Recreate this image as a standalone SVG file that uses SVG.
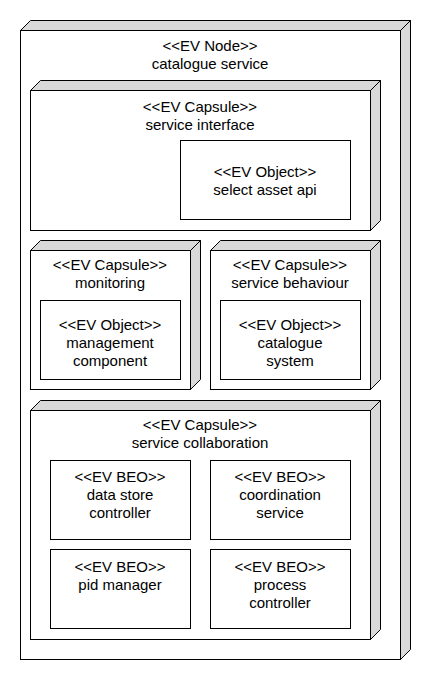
<svg xmlns="http://www.w3.org/2000/svg" width="430" height="680" viewBox="0 0 430 680">
<style>
.face{fill:#ffffff;stroke:#000;stroke-width:1}
.side{fill:#d9d9d9;stroke:#000;stroke-width:1;stroke-linejoin:miter}
.box{fill:#ffffff;stroke:#000;stroke-width:1}
text{font-family:"Liberation Sans",Arial,sans-serif;font-size:15px;fill:#000;text-anchor:middle}
</style>
<rect width="430" height="680" fill="#fff"/>
<g id="node-catalogue-service">
<polygon class="side" points="20.5,30.5 30.5,20.5 410.5,20.5 400.5,30.5"/>
<polygon class="side" points="400.5,30.5 410.5,20.5 410.5,649.5 400.5,659.5"/>
<rect class="face" x="20.5" y="30.5" width="380" height="629"/>
<text x="210" y="51">&lt;&lt;EV Node&gt;&gt;</text>
<text x="210" y="69">catalogue service</text>
</g>
<g id="capsule-service-interface">
<polygon class="side" points="30.5,90.5 40.5,80.5 380.5,80.5 370.5,90.5"/>
<polygon class="side" points="370.5,90.5 380.5,80.5 380.5,220.5 370.5,230.5"/>
<rect class="face" x="30.5" y="90.5" width="340" height="140"/>
<text x="200" y="112">&lt;&lt;EV Capsule&gt;&gt;</text>
<text x="200" y="130">service interface</text>
</g>
<g id="object-select-asset-api">
<rect class="box" x="180.5" y="140.5" width="170" height="79"/>
<text x="265" y="177">&lt;&lt;EV Object&gt;&gt;</text>
<text x="265" y="195">select asset api</text>
</g>
<g id="capsule-monitoring">
<polygon class="side" points="30.5,250.5 40.5,240.5 200.5,240.5 190.5,250.5"/>
<polygon class="side" points="190.5,250.5 200.5,240.5 200.5,379.5 190.5,389.5"/>
<rect class="face" x="30.5" y="250.5" width="160" height="139"/>
<text x="110" y="270">&lt;&lt;EV Capsule&gt;&gt;</text>
<text x="110" y="288">monitoring</text>
</g>
<g id="object-management-component">
<rect class="box" x="40.5" y="300.5" width="140" height="79"/>
<text x="110" y="330">&lt;&lt;EV Object&gt;&gt;</text>
<text x="110" y="348">management</text>
<text x="110" y="366">component</text>
</g>
<g id="capsule-service-behaviour">
<polygon class="side" points="210.5,250.5 220.5,240.5 380.5,240.5 370.5,250.5"/>
<polygon class="side" points="370.5,250.5 380.5,240.5 380.5,379.5 370.5,389.5"/>
<rect class="face" x="210.5" y="250.5" width="160" height="139"/>
<text x="290" y="270">&lt;&lt;EV Capsule&gt;&gt;</text>
<text x="290" y="288">service behaviour</text>
</g>
<g id="object-catalogue-system">
<rect class="box" x="220.5" y="300.5" width="140" height="79"/>
<text x="290" y="330">&lt;&lt;EV Object&gt;&gt;</text>
<text x="290" y="348">catalogue</text>
<text x="290" y="366">system</text>
</g>
<g id="capsule-service-collaboration">
<polygon class="side" points="30.5,410.5 40.5,400.5 380.5,400.5 370.5,410.5"/>
<polygon class="side" points="370.5,410.5 380.5,400.5 380.5,629.5 370.5,639.5"/>
<rect class="face" x="30.5" y="410.5" width="340" height="229"/>
<text x="200" y="430">&lt;&lt;EV Capsule&gt;&gt;</text>
<text x="200" y="448">service collaboration</text>
</g>
<g id="beo-data-store-controller">
<rect class="box" x="50.5" y="460.5" width="140" height="79"/>
<text x="120" y="482">&lt;&lt;EV BEO&gt;&gt;</text>
<text x="120" y="500">data store</text>
<text x="120" y="518">controller</text>
</g>
<g id="beo-coordination-service">
<rect class="box" x="210.5" y="460.5" width="140" height="79"/>
<text x="280" y="482">&lt;&lt;EV BEO&gt;&gt;</text>
<text x="280" y="500">coordination</text>
<text x="280" y="518">service</text>
</g>
<g id="beo-pid-manager">
<rect class="box" x="50.5" y="549.5" width="140" height="79"/>
<text x="120" y="572">&lt;&lt;EV BEO&gt;&gt;</text>
<text x="120" y="590">pid manager</text>
</g>
<g id="beo-process-controller">
<rect class="box" x="210.5" y="549.5" width="140" height="79"/>
<text x="280" y="572">&lt;&lt;EV BEO&gt;&gt;</text>
<text x="280" y="590">process</text>
<text x="280" y="608">controller</text>
</g>
<g id="connectors"/>
</svg>
